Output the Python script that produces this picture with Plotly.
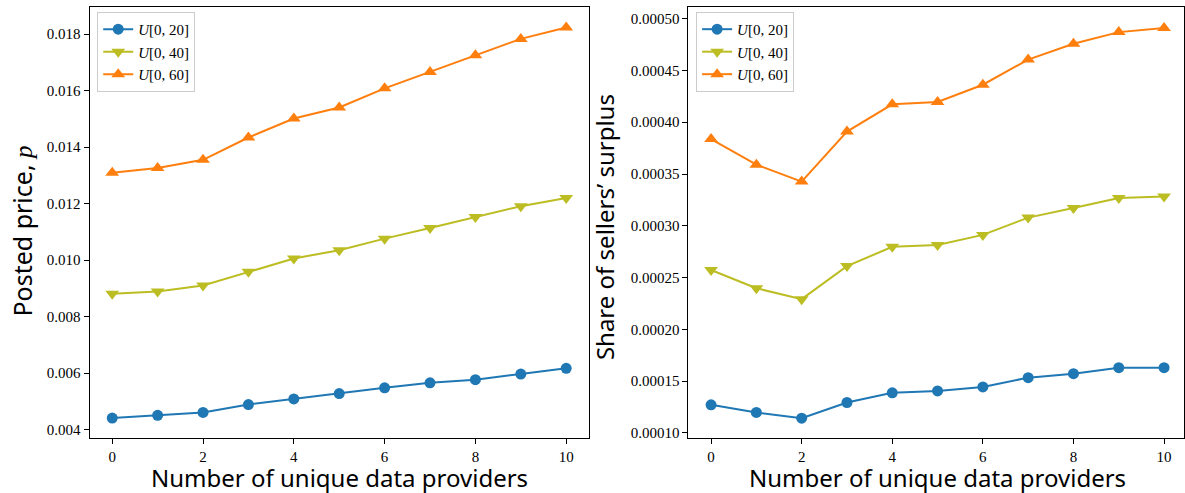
import plotly.graph_objects as go

# Number of unique data providers
providers = list(range(11))

# Posted price p for each value distribution
price_u20 = [0.00441, 0.00451, 0.00461, 0.00489, 0.00509, 0.00528, 0.00548, 0.00566, 0.00577, 0.00597, 0.00617]
price_u40 = [0.00881, 0.00889, 0.00910, 0.00959, 0.01006, 0.01035, 0.01076, 0.01114, 0.01153, 0.01191, 0.01220]
price_u60 = [0.01309, 0.01326, 0.01355, 0.01434, 0.01501, 0.01540, 0.01608, 0.01666, 0.01725, 0.01783, 0.01823]

# Share of sellers' surplus for each value distribution
share_u20 = [0.0001272, 0.0001198, 0.0001143, 0.0001294, 0.0001387, 0.0001406, 0.0001444, 0.0001534, 0.0001572, 0.0001630, 0.0001630]
share_u40 = [0.0002573, 0.0002397, 0.0002292, 0.0002611, 0.0002797, 0.0002815, 0.0002912, 0.0003079, 0.0003172, 0.0003268, 0.0003283]
share_u60 = [0.0003837, 0.0003590, 0.0003427, 0.0003910, 0.0004173, 0.0004195, 0.0004362, 0.0004605, 0.0004758, 0.0004870, 0.0004909]

series_names = ["<i>U</i>[0, 20]", "<i>U</i>[0, 40]", "<i>U</i>[0, 60]"]
colors = ["#1f77b4", "#bcbd22", "#ff7f0e"]
symbols = ["circle", "triangle-down", "triangle-up"]
marker_sizes = [11, 12, 12]

W, H = 1185, 493
fig = go.Figure()

left_sets = [price_u20, price_u40, price_u60]
right_sets = [share_u20, share_u40, share_u60]

for name, ys, c, s, ms in zip(series_names, left_sets, colors, symbols, marker_sizes):
    fig.add_trace(go.Scatter(
        x=providers, y=ys, name=name, mode="lines+markers",
        line=dict(color=c, width=2), marker=dict(symbol=s, size=ms, color=c),
        xaxis="x", yaxis="y", legend="legend"))

for name, ys, c, s, ms in zip(series_names, right_sets, colors, symbols, marker_sizes):
    fig.add_trace(go.Scatter(
        x=providers, y=ys, name=name, mode="lines+markers",
        line=dict(color=c, width=2), marker=dict(symbol=s, size=ms, color=c),
        xaxis="x2", yaxis="y2", legend="legend2"))

px_x = lambda p: p / W
px_y = lambda p: 1 - p / H

tick_font = dict(family="Liberation Serif", size=15, color="#000")
axis_common = dict(showline=True, linecolor="#000", linewidth=1, mirror=True,
                   ticks="outside", ticklen=5, tickwidth=1, tickcolor="#000",
                   showgrid=False, zeroline=False, tickfont=tick_font)

ydom = [px_y(440.7), px_y(7.3)]
legend_font = dict(family="Liberation Serif", size=15, color="#000")

fig.update_layout(
    width=W, height=H,
    margin=dict(l=0, r=0, t=0, b=0),
    paper_bgcolor="white", plot_bgcolor="white",
    xaxis=dict(domain=[px_x(89.6), px_x(589.4)], range=[-0.5, 10.5],
               tickvals=[0, 2, 4, 6, 8, 10], anchor="y", **axis_common),
    yaxis=dict(domain=ydom, range=[0.003705, 0.018949], tick0=0.004, dtick=0.002,
               tickformat=".3f", anchor="x", **axis_common),
    xaxis2=dict(domain=[px_x(689), 1.0], range=[-0.5, 10.44],
                tickvals=[0, 2, 4, 6, 8, 10], anchor="y2", **axis_common),
    yaxis2=dict(domain=ydom, range=[0.0000951, 0.000511], tick0=0.0001, dtick=0.00005,
                tickformat=".5f", anchor="x2", **axis_common),
    legend=dict(x=px_x(97.3), y=px_y(12), xanchor="left", yanchor="top",
                bordercolor="#cccccc", borderwidth=1, bgcolor="rgba(255,255,255,0.8)",
                font=legend_font, itemwidth=30, tracegroupgap=0),
    legend2=dict(x=px_x(696.7), y=px_y(12), xanchor="left", yanchor="top",
                 bordercolor="#cccccc", borderwidth=1, bgcolor="rgba(255,255,255,0.8)",
                 font=legend_font, itemwidth=30, tracegroupgap=0),
    showlegend=True,
)

title_font = dict(family="Noto Sans", size=24, color="#000")
fig.add_annotation(text="Number of unique data providers", xref="paper", yref="paper",
                   x=px_x(339.5), y=px_y(480), xanchor="center", yanchor="middle",
                   showarrow=False, font=title_font)
fig.add_annotation(text="Number of unique data providers", xref="paper", yref="paper",
                   x=px_x(938.5), y=px_y(480), xanchor="center", yanchor="middle",
                   showarrow=False, font=title_font)
fig.add_annotation(text="Posted price, <i><span style=\"font-family:Liberation Serif\">p</span></i>",
                   xref="paper", yref="paper",
                   x=px_x(22), y=px_y(232), xanchor="center", yanchor="middle", textangle=-90,
                   showarrow=False, font=dict(family="Noto Sans", size=25, color="#000"))
fig.add_annotation(text="Share of sellers’ surplus", xref="paper", yref="paper",
                   x=px_x(605), y=px_y(228), xanchor="center", yanchor="middle", textangle=-90,
                   showarrow=False, font=title_font)

fig.write_html("out.html")
